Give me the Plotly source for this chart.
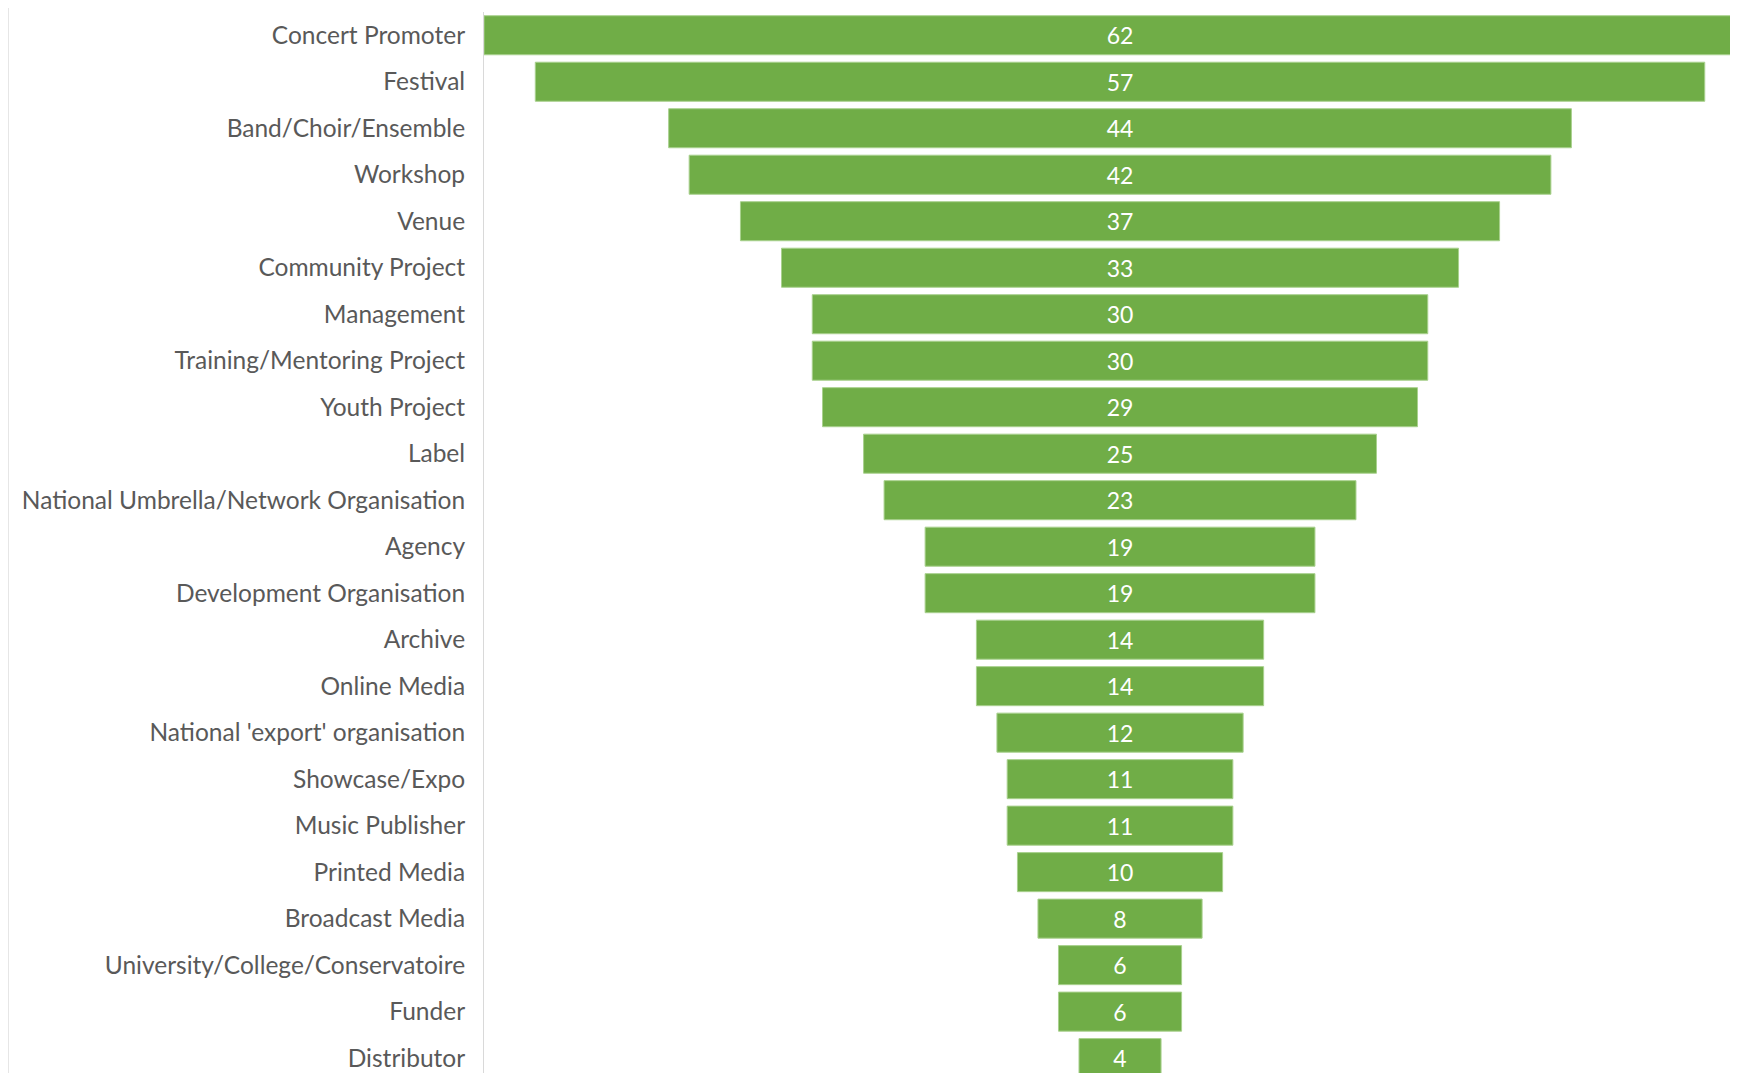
import plotly.graph_objects as go

categories = [
    "Concert Promoter", "Festival", "Band/Choir/Ensemble", "Workshop", "Venue",
    "Community Project", "Management", "Training/Mentoring Project", "Youth Project",
    "Label", "National Umbrella/Network Organisation", "Agency",
    "Development Organisation", "Archive", "Online Media",
    "National 'export' organisation", "Showcase/Expo", "Music Publisher",
    "Printed Media", "Broadcast Media", "University/College/Conservatoire",
    "Funder", "Distributor",
]
values = [62, 57, 44, 42, 37, 33, 30, 30, 29, 25, 23, 19, 19, 14, 14, 12, 11, 11, 10, 8, 6, 6, 4]

# page has an 8px body margin; keep figure inside the viewport (no scrollbars)
W, H = 1722, 1065
L, R, T, B = 476, 0, 4, 0

fig = go.Figure(go.Funnel(
    y=categories,
    x=values,
    textinfo="value",
    textposition="inside",
    insidetextanchor="middle",
    textfont=dict(color="white", size=23, family="Lato"),
    marker=dict(color="#70AD47", line=dict(color="#A9D18E", width=1)),
    connector=dict(visible=False),
    hoverinfo="y+x",
))

fig.update_layout(
    width=W, height=H,
    margin=dict(l=L, r=R, t=T, b=B),
    paper_bgcolor="white",
    plot_bgcolor="white",
    funnelgap=0.16,
    showlegend=False,
    font=dict(family="Lato", color="#595959", size=24.5),
    xaxis=dict(range=[-31, 29.73], visible=False, showgrid=False, zeroline=False),
    yaxis=dict(range=[22.32, -0.5], autorange=False, showline=True, linecolor="#D9D9D9",
               linewidth=1, showgrid=False, ticks="", ticklabelstandoff=13,
               tickfont=dict(size=24.5, color="#595959", family="Lato")),
    shapes=[dict(type="line", xref="paper", yref="paper",
                 x0=(0.5 - L) / (W - L - R), x1=(0.5 - L) / (W - L - R), y0=0, y1=1.01,
                 line=dict(color="#E6E6E6", width=1))],
)

fig.write_html("out.html")
